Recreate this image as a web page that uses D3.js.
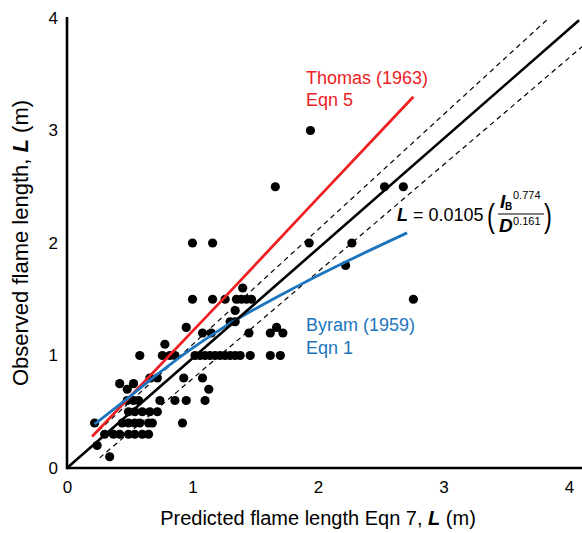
<!DOCTYPE html>
<html>
<head>
<meta charset="utf-8">
<script src="https://cdn.jsdelivr.net/npm/d3@7"></script>
<style>
  body { margin: 0; background: #fff; }
  text { font-family: "Liberation Sans", Arial, sans-serif; }
</style>
</head>
<body>
<div id="chart"></div>
<script>
// observed vs predicted flame length (m)
var obsPoints = [
  [1.94, 3.0], [1.66, 2.5], [2.53, 2.5], [2.68, 2.5],
  [1.0, 2.0], [1.16, 2.0], [1.93, 2.0], [2.27, 2.0], [2.22, 1.8], [2.76, 1.5],
  [1.4, 1.6],
  [1.0, 1.5], [1.16, 1.5], [1.26, 1.5], [1.35, 1.5], [1.39, 1.5], [1.43, 1.5], [1.47, 1.5],
  [1.34, 1.4], [1.3, 1.3], [1.34, 1.3],
  [0.95, 1.25], [1.08, 1.2], [1.15, 1.2], [1.45, 1.2], [1.62, 1.2], [1.67, 1.25], [1.72, 1.2],
  [0.78, 1.1],
  [0.58, 1.0], [0.76, 1.0], [0.82, 1.0], [0.86, 1.0], [1.02, 1.0], [1.06, 1.0], [1.1, 1.0],
  [1.14, 1.0], [1.18, 1.0], [1.22, 1.0], [1.26, 1.0], [1.3, 1.0], [1.34, 1.0], [1.38, 1.0],
  [1.46, 1.0], [1.62, 1.0], [1.7, 1.0],
  [0.66, 0.8], [0.72, 0.8], [0.93, 0.8], [1.08, 0.8],
  [0.42, 0.75], [0.53, 0.75], [0.48, 0.7], [1.13, 0.7],
  [0.48, 0.6], [0.53, 0.6], [0.57, 0.6], [0.74, 0.6], [0.86, 0.6], [0.95, 0.6], [1.1, 0.6],
  [0.49, 0.5], [0.54, 0.5], [0.6, 0.5], [0.66, 0.5], [0.72, 0.5],
  [0.22, 0.4], [0.44, 0.4], [0.49, 0.4], [0.54, 0.4], [0.58, 0.4], [0.65, 0.4], [0.68, 0.4], [0.92, 0.4],
  [0.3, 0.3], [0.37, 0.3], [0.42, 0.3], [0.49, 0.3], [0.54, 0.3], [0.6, 0.3], [0.65, 0.3],
  [0.24, 0.2], [0.34, 0.1]
];

var fitLine = [[0, 0], [4.08, 3.98]];
var upperBand = [[0.25, 0.33], [3.84, 4.0]];
var lowerBand = [[0.26, 0.09], [4.12, 3.76]];

var thomasLine = [[0.2, 0.28], [1.2, 1.45], [1.94, 2.33], [2.76, 3.30]];
var byramLine = [[0.22, 0.39], [0.45, 0.59], [0.74, 0.85], [0.98, 1.05], [1.22, 1.23], [1.86, 1.63], [2.71, 2.09]];

var xTicks = [0, 1, 2, 3, 4];
var yTicks = [0, 1, 2, 3, 4];

var red = "rgb(237,32,36)";
var blue = "rgb(28,117,188)";

const w = 582;
const h = 533;

var x = d3.scaleLinear().domain([0, 4]).range([67, 569]);
var y = d3.scaleLinear().domain([0, 4]).range([468, 18]);

var svg = d3.select("#chart")
  .append("svg")
  .attr("width", w)
  .attr("height", h);

var line = d3.line()
  .x(d => x(d[0]))
  .y(d => y(d[1]));

// axes (labels only, no tick marks)
var xAxis = svg.append("g")
  .attr("transform", "translate(0," + y(0) + ")")
  .call(d3.axisBottom(x).tickValues(xTicks).tickFormat(d3.format("d")).tickSize(0).tickPadding(13));
var yAxis = svg.append("g")
  .attr("transform", "translate(" + x(0) + ",0)")
  .call(d3.axisLeft(y).tickValues(yTicks).tickFormat(d3.format("d")).tickSize(0).tickPadding(9));

svg.selectAll(".domain").remove();
svg.selectAll(".tick text")
  .attr("font-family", "Liberation Sans, Arial, sans-serif")
  .attr("font-size", 17)
  .attr("fill", "#000");

// dashed band lines
[upperBand, lowerBand].forEach(function(b) {
  svg.append("path")
    .attr("d", line(b))
    .attr("fill", "none")
    .attr("stroke", "#000")
    .attr("stroke-width", 1.2)
    .attr("stroke-dasharray", "5,4");
});

// points
svg.selectAll("circle")
  .data(obsPoints)
  .enter()
  .append("circle")
  .attr("cx", d => x(d[0]))
  .attr("cy", d => y(d[1]))
  .attr("r", 4.6)
  .attr("fill", "#000");

// model curves
svg.append("path")
  .attr("d", line(thomasLine))
  .attr("fill", "none")
  .attr("stroke", red)
  .attr("stroke-width", 2.8);

svg.append("path")
  .attr("d", line.curve(d3.curveMonotoneX)(byramLine))
  .attr("fill", "none")
  .attr("stroke", blue)
  .attr("stroke-width", 2.8);
line.curve(d3.curveLinear);

svg.append("path")
  .attr("d", line(fitLine))
  .attr("fill", "none")
  .attr("stroke", "#000")
  .attr("stroke-width", 2.6);

// axis lines
svg.append("line")
  .attr("x1", x(0)).attr("x2", 582)
  .attr("y1", y(0)).attr("y2", y(0))
  .attr("stroke", "#000").attr("stroke-width", 2.6);
svg.append("line")
  .attr("x1", x(0)).attr("x2", x(0))
  .attr("y1", y(0) + 1.3).attr("y2", y(4) - 1)
  .attr("stroke", "#000").attr("stroke-width", 2.6);

// axis titles
var xt = svg.append("text")
  .attr("x", 318)
  .attr("y", 525)
  .attr("text-anchor", "middle")
  .attr("font-size", 20);
xt.append("tspan").text("Predicted flame length Eqn 7, ");
xt.append("tspan").attr("font-weight", "bold").attr("font-style", "italic").text("L");
xt.append("tspan").text(" (m)");

var yt = svg.append("text")
  .attr("transform", "translate(28,243) rotate(-90)")
  .attr("text-anchor", "middle")
  .attr("font-size", 22);
yt.append("tspan").text("Observed flame length, ");
yt.append("tspan").attr("font-weight", "bold").attr("font-style", "italic").text("L");
yt.append("tspan").text(" (m)");

// curve labels
svg.append("text").attr("x", 306).attr("y", 84).attr("font-size", 18).attr("fill", red).text("Thomas (1963)");
svg.append("text").attr("x", 306).attr("y", 106).attr("font-size", 18).attr("fill", red).text("Eqn 5");
svg.append("text").attr("x", 306).attr("y", 331).attr("font-size", 18).attr("fill", blue).text("Byram (1959)");
svg.append("text").attr("x", 306).attr("y", 354).attr("font-size", 18).attr("fill", blue).text("Eqn 1");

// equation
var eq = svg.append("g");
var eqMain = eq.append("text").attr("x", 397).attr("y", 221).attr("font-size", 18);
eqMain.append("tspan").attr("font-weight", "bold").attr("font-style", "italic").text("L");
eqMain.append("tspan").text(" = 0.0105");

eq.append("text")
  .attr("transform", "translate(487,227) scale(0.72,1)")
  .attr("font-size", 33)
  .text("(");
eq.append("text")
  .attr("transform", "translate(544,227) scale(0.72,1)")
  .attr("font-size", 33)
  .text(")");

eq.append("text").attr("x", 500).attr("y", 208).attr("font-size", 19)
  .attr("font-weight", "bold").attr("font-style", "italic").text("I");
eq.append("text").attr("x", 505).attr("y", 210).attr("font-size", 10)
  .attr("font-weight", "bold").text("B");
eq.append("text").attr("x", 513).attr("y", 199).attr("font-size", 11).text("0.774");

eq.append("line")
  .attr("x1", 498).attr("x2", 544)
  .attr("y1", 214).attr("y2", 214)
  .attr("stroke", "#000").attr("stroke-width", 1);

eq.append("text").attr("x", 499).attr("y", 232).attr("font-size", 19)
  .attr("font-weight", "bold").attr("font-style", "italic").text("D");
eq.append("text").attr("x", 513).attr("y", 225).attr("font-size", 11).text("0.161");
</script>
</body>
</html>
